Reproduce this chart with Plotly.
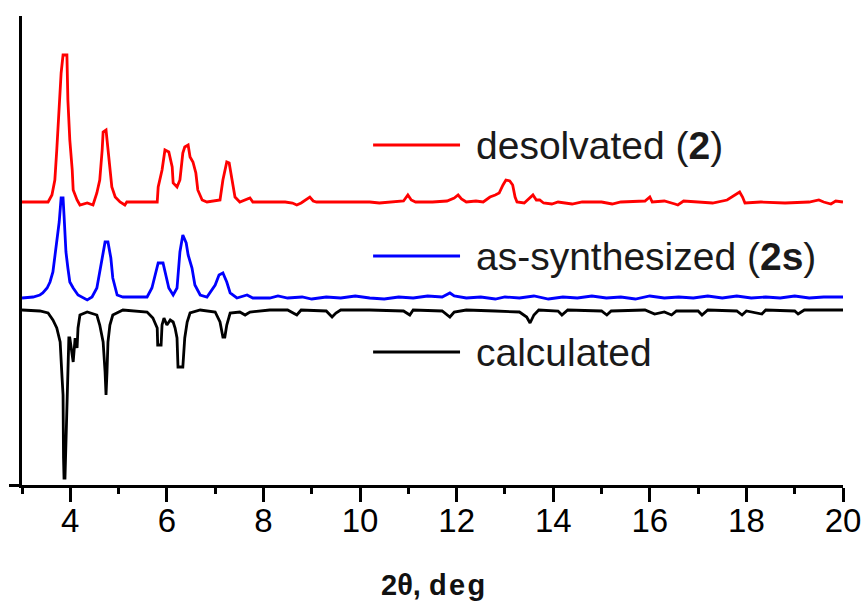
import plotly.graph_objects as go

# ---- data (2theta in deg, stacked intensity in a.u.) ----
red_x = [3.00, 3.54, 3.62, 3.68, 3.72, 3.77, 3.81, 3.85, 3.93, 3.95, 3.97, 3.99, 4.04, 4.06, 4.14, 4.20,
         4.35, 4.47, 4.55, 4.61, 4.66, 4.68, 4.74, 4.76, 4.80, 4.86, 4.93, 5.03, 5.13, 5.17, 5.80, 5.82,
         5.90, 5.96, 6.04, 6.11, 6.13, 6.21, 6.27, 6.33, 6.37, 6.44, 6.48, 6.54, 6.60, 6.64, 6.73, 6.83,
         7.10, 7.16, 7.24, 7.29, 7.35, 7.41, 7.51, 7.72, 7.78, 8.13,
         8.45, 8.60, 8.69, 8.78, 8.90, 8.96, 9.03, 9.10, 9.60, 10.20, 10.40, 10.90, 10.99, 11.06, 11.15,
         11.50, 11.80, 11.95, 12.03, 12.10, 12.20, 12.40, 12.55, 12.69, 12.80, 12.88, 12.96, 13.02, 13.10,
         13.16, 13.21, 13.25, 13.40, 13.58, 13.65, 13.72, 13.80, 13.97, 14.10, 14.39, 14.60, 15.00, 15.22,
         15.40, 15.90, 16.00, 16.05, 16.30, 16.52, 16.58, 16.70, 17.00, 17.30, 17.60, 17.76, 17.86, 17.92,
         17.97, 18.30, 18.80, 19.30, 19.50, 19.60, 19.75, 19.85, 20.00]
red_y = [283, 283, 290, 305, 335, 372, 412, 430, 430, 385, 360, 345, 315, 295, 285, 280,
         282, 280, 292, 305, 335, 353, 355, 345, 322, 298, 288, 283, 280, 283, 283, 298,
         315, 335, 333, 318, 302, 298, 305, 332, 338, 340, 328, 323, 312, 295, 285, 283,
         285, 305, 323, 322, 305, 288, 283, 287, 283, 283,
         283, 282, 280, 282, 286, 288, 284, 283, 283, 283, 282, 284, 290, 285, 283,
         283, 284, 287, 290, 286, 283, 284, 283, 288, 290, 292, 300, 305, 304,
         300, 288, 283, 282, 290, 285, 285, 282, 281, 283, 281, 283, 283, 281,
         283, 284, 288, 283, 284, 281, 280, 284, 283, 282, 285, 290, 293, 288,
         282, 283, 282, 283, 285, 283, 281, 284, 283]

blue_x = [3.00, 3.23, 3.37, 3.43, 3.52, 3.58, 3.64, 3.68, 3.72, 3.77, 3.81, 3.85, 3.87, 3.91, 3.95, 3.99,
          4.06, 4.16, 4.35, 4.45, 4.55, 4.61, 4.68, 4.72, 4.78, 4.84, 4.88, 4.97, 5.09, 5.59, 5.69, 5.75,
          5.82, 5.92, 5.98, 6.04, 6.13, 6.21, 6.27, 6.33, 6.40, 6.44, 6.52, 6.58, 6.69, 6.83, 7.00, 7.08,
          7.16, 7.24, 7.31, 7.45, 7.66, 7.78, 8.13,
          8.30, 8.50, 8.80, 9.00, 9.30, 9.60, 9.90, 10.20, 10.50, 10.80, 11.10, 11.40, 11.70, 11.86, 11.95,
          12.20, 12.50, 12.80, 13.00, 13.30, 13.60, 13.90, 14.20, 14.50, 14.80, 15.10, 15.40, 15.70, 16.00,
          16.30, 16.60, 16.90, 17.20, 17.50, 17.80, 18.10, 18.40, 18.70, 19.00, 19.30, 19.60, 20.00]
blue_y = [187, 188, 190, 192, 197, 203, 213, 227, 240, 263, 287, 287, 270, 233, 217, 203,
          197, 190, 185, 188, 197, 213, 233, 243, 243, 227, 207, 190, 188, 188, 197, 210,
          222, 222, 210, 197, 190, 197, 233, 250, 242, 230, 217, 200, 190, 188, 200, 210,
          212, 203, 192, 187, 190, 187, 187,
          189, 187, 188, 186, 188, 187, 189, 187, 186, 188, 187, 189, 188, 192, 189,
          187, 188, 186, 188, 187, 189, 186, 188, 187, 189, 187, 188, 186, 189,
          187, 188, 187, 189, 187, 189, 187, 188, 187, 189, 187, 188, 188]

black_x = [3.00, 3.37, 3.54, 3.64, 3.72, 3.79, 3.83, 3.85, 3.86, 3.87, 3.89, 3.93, 3.95, 3.97, 3.99, 4.06,
           4.10, 4.14, 4.16, 4.20, 4.35, 4.55, 4.61, 4.68, 4.72, 4.74, 4.76, 4.78, 4.82, 4.88, 5.09, 5.59,
           5.71, 5.80, 5.81, 5.88, 5.90, 5.94, 6.00, 6.07, 6.13, 6.17, 6.21, 6.23, 6.33, 6.37, 6.42, 6.48,
           6.69, 7.00, 7.10, 7.16, 7.20, 7.24, 7.31, 7.51, 7.62, 7.72, 8.13,
           8.50, 8.69, 8.78, 9.30, 9.42, 9.50, 9.60, 10.20, 10.90, 11.03, 11.10, 11.70, 11.86, 11.95, 12.20,
           12.80, 13.30, 13.45, 13.52, 13.60, 13.70, 14.10, 14.18, 14.30, 15.00, 15.11, 15.20, 15.90, 16.10,
           16.30, 16.45, 16.55, 17.00, 17.08, 17.20, 17.80, 17.91, 18.00, 18.32, 18.40, 19.00, 19.07, 19.20,
           20.00]
black_y = [175, 174, 172, 165, 157, 143, 107, 90, 27, 7, 7, 93, 123, 147, 147, 123,
           147, 137, 157, 170, 173, 170, 160, 143, 113, 90, 113, 143, 160, 170, 175, 173,
           167, 157, 140, 140, 160, 167, 160, 165, 163, 157, 147, 118, 118, 147, 163, 172,
           175, 173, 163, 148, 148, 160, 172, 173, 170, 173, 175,
           175, 170, 175, 174, 168, 172, 175, 175, 174, 170, 175, 174, 168, 173, 175,
           174, 173, 168, 162, 170, 175, 174, 170, 175, 174, 170, 174, 175, 171,
           173, 170, 174, 174, 170, 175, 174, 170, 174, 171, 175, 174, 171, 175,
           175]

series_names = ["desolvated (<b>2</b>)", "as-synthesized (<b>2s</b>)", "calculated"]
series_colors = ["#ff0000", "#0000ff", "#000000"]
legend_y = [340, 229, 133]          # vertical position of each legend entry (data units)
legend_x = [10.27, 12.07, 12.36]    # sample line start, end, text start

x_tickvals = [4, 6, 8, 10, 12, 14, 16, 18, 20]
x_minor_tickvals = [3, 5, 7, 9, 11, 13, 15, 17, 19]
x_title = "<b>2θ, d\u200ae\u200ag</b>"

FONT = "Liberation Sans, Arial, sans-serif"

fig = go.Figure()
for xs, ys, name, col in zip([red_x, blue_x, black_x], [red_y, blue_y, black_y],
                             series_names, series_colors):
    fig.add_trace(go.Scatter(x=xs, y=ys, mode="lines", name=name,
                             line=dict(color=col, width=2.8, shape="linear"),
                             hoverinfo="skip", showlegend=False))

for ly, name, col in zip(legend_y, series_names, series_colors):
    fig.add_trace(go.Scatter(x=[legend_x[0], legend_x[1]], y=[ly, ly], mode="lines",
                             line=dict(color=col, width=2.8), hoverinfo="skip", showlegend=False))
    fig.add_annotation(x=legend_x[2], y=ly, xref="x", yref="y", text=name, showarrow=False,
                       xanchor="left", yanchor="middle",
                       font=dict(family=FONT, size=39, color="#1a1a1a"))

# axis title
fig.add_annotation(x=0.5, y=0, xref="paper", yref="paper", text=x_title, showarrow=False,
                   xanchor="center", yanchor="top", yshift=-82,
                   font=dict(family=FONT, size=29, color="#111111"))

fig.update_layout(
    width=865, height=602,
    margin=dict(l=22, r=22, t=16, b=117, autoexpand=False),
    paper_bgcolor="white", plot_bgcolor="white",
    showlegend=False,
    font=dict(family=FONT, color="#000000"),
    xaxis=dict(range=[3, 20], tickvals=x_tickvals, ticks="outside", ticklen=14, tickwidth=3,
               tickcolor="black", showline=True, linewidth=3, linecolor="black",
               showgrid=False, zeroline=False, automargin=False, ticklabelstandoff=-10,
               tickfont=dict(family=FONT, size=33, color="#000000")),
    xaxis2=dict(range=[3, 20], overlaying="x", anchor="y", side="bottom",
                tickvals=x_minor_tickvals, ticks="outside", ticklen=8, tickwidth=3,
                tickcolor="black", showticklabels=False, showline=False,
                showgrid=False, zeroline=False, automargin=False),
    yaxis=dict(range=[0, 469], tickvals=[0], ticks="outside", ticklen=10, tickwidth=3,
               tickcolor="black", showticklabels=False, showline=True, linewidth=3,
               linecolor="black", showgrid=False, zeroline=False, automargin=False),
)
fig.add_trace(go.Scatter(x=[], y=[], xaxis="x2", yaxis="y", showlegend=False, hoverinfo="skip"))

fig.write_html("out.html", config={"displayModeBar": False},
               post_script="document.body.style.margin='0';document.body.style.padding='0';")
